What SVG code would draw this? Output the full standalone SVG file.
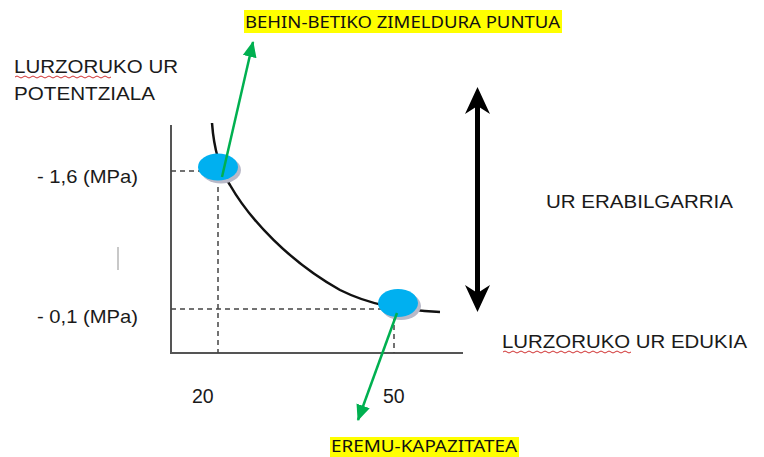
<svg xmlns="http://www.w3.org/2000/svg" width="764" height="457" viewBox="0 0 764 457">
<style>
.lbl{font-family:"Liberation Sans",Arial,sans-serif;font-size:18.5px;fill:#1a1a1a}
.num{font-family:"Liberation Sans",Arial,sans-serif;font-size:19.5px;fill:#1a1a1a}
.hl{font-family:"Noto Sans","Open Sans",sans-serif;font-size:17px;fill:#111}
.axis{stroke:#555;stroke-width:2;fill:none}
.dash{stroke:#444;stroke-width:1.5;stroke-dasharray:5 4;fill:none}
.green{stroke:#00b050;stroke-width:2.5;fill:none}
.squig{stroke:#d03030;stroke-width:1;fill:none}
</style>
<defs>
<marker id="ga" markerUnits="userSpaceOnUse" markerWidth="20" markerHeight="16" refX="15" refY="7" orient="auto">
<path d="M0,0 L16,7 L0,14 Z" fill="#00b050"/>
</marker>
</defs>
<rect width="764" height="457" fill="#fff"/>

<g id="axes">
<line class="axis" x1="171" y1="125" x2="171" y2="354"/>
<line class="axis" x1="170" y1="353" x2="463" y2="353"/>
</g>

<g id="guides">
<line class="dash" x1="171" y1="171" x2="212" y2="171"/>
<line class="dash" x1="218" y1="178" x2="218" y2="353"/>
<line class="dash" x1="171" y1="309" x2="385" y2="309"/>
<line class="dash" x1="394" y1="316" x2="394" y2="353"/>
</g>

<g id="curve">
<path d="M212,123 C214,150 220,170 230,185 C250,220 290,262 340,290 C370,305 400,310 440,312" stroke="#111" stroke-width="2.5" fill="none"/>
</g>

<g id="point-wilting">
<ellipse cx="221" cy="170" rx="20" ry="13.5" fill="#b9b9c8"/>
<ellipse cx="218" cy="167" rx="20" ry="13.5" fill="#00b0f0"/>
</g>
<g id="point-capacity">
<ellipse cx="401" cy="306" rx="20" ry="14" fill="#b9b9c8"/>
<ellipse cx="398" cy="303" rx="20" ry="14" fill="#00b0f0"/>
</g>

<g id="connectors">
<line class="green" x1="222" y1="177" x2="253" y2="42" marker-end="url(#ga)"/>
<line class="green" x1="397" y1="313" x2="358" y2="420" marker-end="url(#ga)"/>
</g>

<g id="range-arrow">
<line x1="477.5" y1="100" x2="477.5" y2="299" stroke="#000" stroke-width="5"/>
<polygon points="477.5,87 465,114 477.5,106 490,114" fill="#000"/>
<polygon points="477.5,312 465,285 477.5,293 490,285" fill="#000"/>
</g>

<g id="label-yaxis">
<text class="lbl" x="14" y="73" textLength="164" lengthAdjust="spacingAndGlyphs">LURZORUKO UR</text>
<path class="squig" d="M15,77 q2,-2 4,0 t4,0 t4,0 t4,0 t4,0 t4,0 t4,0 t4,0 t4,0 t4,0 t4,0 t4,0 t4,0 t4,0 t4,0 t4,0 t4,0 t4,0 t4,0 t4,0 t4,0 t4,0 t4,0 t4,0"/>
<text class="lbl" x="14" y="100" textLength="141" lengthAdjust="spacingAndGlyphs">POTENTZIALA</text>
</g>

<g id="ticks">
<text class="lbl" x="37" y="183" textLength="101" lengthAdjust="spacingAndGlyphs">- 1,6 (MPa)</text>
<text class="lbl" x="37" y="323" textLength="101" lengthAdjust="spacingAndGlyphs">- 0,1 (MPa)</text>
<text class="num" x="192" y="403">20</text>
<text class="num" x="383" y="403">50</text>
<line x1="118" y1="247" x2="118" y2="270" stroke="#c8c8c8" stroke-width="2"/>
</g>

<g id="label-available">
<text class="lbl" x="546" y="208" textLength="187" lengthAdjust="spacingAndGlyphs">UR ERABILGARRIA</text>
</g>

<g id="label-xaxis">
<text class="lbl" x="502" y="348" textLength="245" lengthAdjust="spacingAndGlyphs">LURZORUKO UR EDUKIA</text>
<path class="squig" d="M503,352 q2,-2 4,0 t4,0 t4,0 t4,0 t4,0 t4,0 t4,0 t4,0 t4,0 t4,0 t4,0 t4,0 t4,0 t4,0 t4,0 t4,0 t4,0 t4,0 t4,0 t4,0 t4,0 t4,0 t4,0 t4,0 t4,0 t4,0 t4,0 t4,0 t4,0 t4,0 t4,0 t4,0"/>
</g>

<g id="label-wilting">
<rect x="244" y="10" width="318" height="23" fill="#ffff00"/>
<text class="hl" x="245" y="28" textLength="315" lengthAdjust="spacingAndGlyphs">BEHIN-BETIKO ZIMELDURA PUNTUA</text>
</g>

<g id="label-capacity">
<rect x="330" y="437" width="189" height="20" fill="#ffff00"/>
<text class="hl" x="331" y="452" font-size="16" textLength="186" lengthAdjust="spacingAndGlyphs">EREMU-KAPAZITATEA</text>
</g>
</svg>
